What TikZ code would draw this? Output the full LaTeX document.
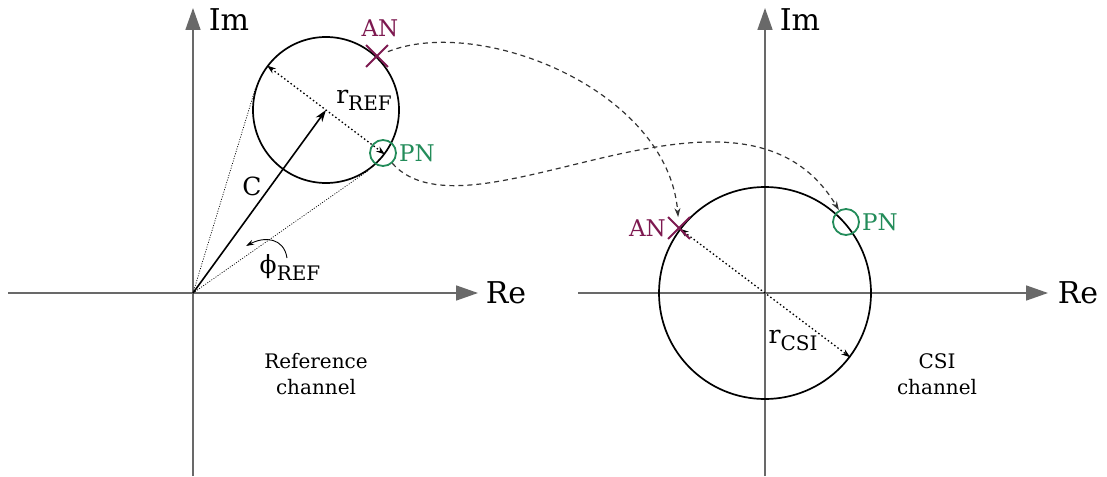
\documentclass[tikz,border=0pt]{standalone}
\usepackage{fontspec}
\setmainfont{DejaVu Serif}
\usetikzlibrary{arrows.meta,calc,shapes.misc}
\definecolor{anc}{RGB}{125,25,80}
\definecolor{pnc}{RGB}{35,140,90}
\definecolor{axc}{RGB}{105,105,105}
\newcommand{\lsub}[1]{\raisebox{-0.28em}{\fontsize{20}{20}\selectfont #1}}
\begin{document}
\begin{tikzpicture}[x=1pt,y=-1pt,
 axis/.style={draw=axc, line width=1.6pt, -{Triangle[length=22pt,width=15pt,fill=axc]}},
 ring/.style={circle, draw=black, line width=1.7pt, inner sep=0pt},
 ancross/.style={cross out, draw=anc, line width=1.8pt, minimum size=20pt, inner sep=0pt},
 pnring/.style={circle, draw=pnc, line width=1.8pt, minimum size=26pt, inner sep=0pt},
 anlab/.style={text=anc, font=\fontsize{23}{26}\selectfont, inner sep=0pt},
 pnlab/.style={text=pnc, font=\fontsize{23}{26}\selectfont, inner sep=0pt},
 axlab/.style={font=\fontsize{30}{34}\selectfont, inner sep=0pt},
 lab/.style={font=\fontsize{25}{28}\selectfont, inner sep=0pt},
 captxt/.style={font=\fontsize{20}{26}\selectfont, align=center, inner sep=0pt},
 flow/.style={dash pattern=on 5pt off 4pt, line width=1.2pt, draw=black!80, -{Stealth[length=9pt,width=6pt]}},
 radline/.style={dash pattern=on 1.5pt off 2.5pt, line width=1.3pt, {Stealth[length=9pt,width=6pt]}-{Stealth[length=9pt,width=6pt]}},
 tangline/.style={dash pattern=on 1pt off 1.5pt, line width=0.7pt},
]
\useasboundingbox (0,0) rectangle (1107,476);
% axes
\coordinate (O1) at (193,293);
\coordinate (O2) at (765,293);
\coordinate (xl1) at (8,293);   \coordinate (xr1) at (478,293);
\coordinate (yb1) at (193,476); \coordinate (yt1) at (193,8);
\coordinate (xl2) at (578,293); \coordinate (xr2) at (1048,293);
\coordinate (yb2) at (765,476); \coordinate (yt2) at (765,8);
\draw[axis] (xl1) -- (xr1);
\draw[axis] (yb1) -- (yt1);
\draw[axis] (xl2) -- (xr2);
\draw[axis] (yb2) -- (yt2);
\node[axlab] (re1) at (506,293) {Re};
\node[axlab] (im1) at (229,20) {Im};
\node[axlab] (re2) at (1078,293) {Re};
\node[axlab] (im2) at (800,20) {Im};
% circles
\node[ring, minimum size=146pt] (ref) at (326,110) {};
\node[ring, minimum size=212pt] (csi) at (765,293) {};
% tangents
\draw[tangline] (O1) -- (tangent cs:node=ref,point={(O1)},solution=1);
\draw[tangline] (O1) -- (tangent cs:node=ref,point={(O1)},solution=2);
% C vector
\draw[line width=1.6pt, -{Stealth[length=12pt,width=8pt]}] (O1) -- (ref.center);
\node[lab] (clab) at (252,186) {C};
% radii
\draw[radline] (ref.143) -- (ref.-37);
\node[lab] (rref) at (364,100) {r\lsub{REF}};
\draw[radline] (csi.143) -- (csi.-37);
\node[lab] (rcsi) at (793,340) {r\lsub{CSI}};
% phi
\coordinate (phs) at (287,258);
\coordinate (phe) at (246,246);
\draw[line width=0.9pt, -{Stealth[length=8pt,width=5pt]}] (phs) .. controls (284,238) and (265,236) .. (phe);
\node[lab] (phl) at (290,268) {ϕ\lsub{REF}};
% markers
\node[ancross] (AN1) at (377,56) {};
\node[pnring] (PN1) at (383,153) {};
\node[ancross] (AN2) at (679,228) {};
\node[pnring] (PN2) at (846,222) {};
\node[anlab] (anl1) at (380,28) {AN};
\node[pnlab, anchor=west] (pnl1) at (399,153) {PN};
\node[anlab, anchor=east] (anl2) at (666,228) {AN};
\node[pnlab, anchor=west] (pnl2) at (862,222) {PN};
% flows
\draw[flow] (AN1) .. controls (480,15) and (668,90) .. (AN2);
\draw[flow] (PN1) .. controls (470,250) and (740,45) .. (PN2);
% captions
\node[captxt] (cap1) at (316,374) {Reference\\channel};
\node[captxt] (cap2) at (937,374) {CSI\\channel};
\end{tikzpicture}
\end{document}
